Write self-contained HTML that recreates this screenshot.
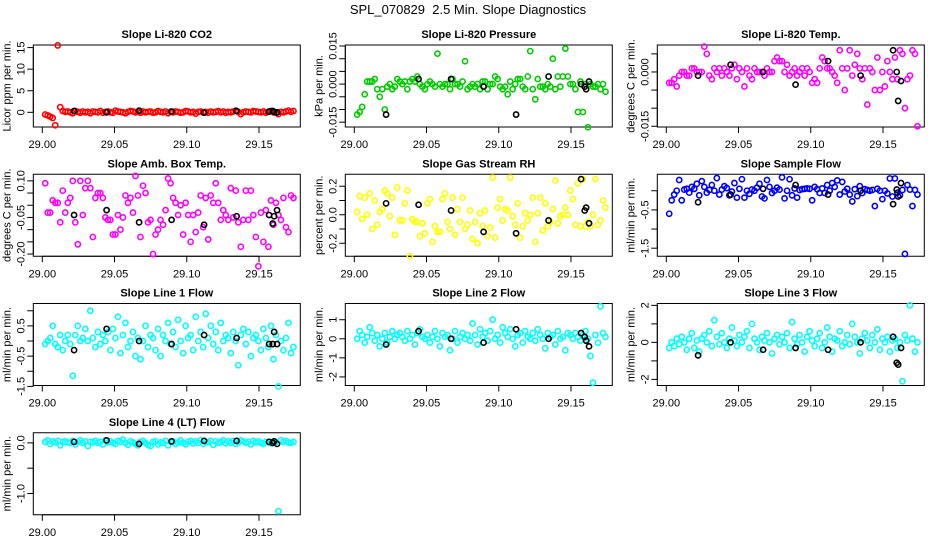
<!DOCTYPE html>
<html><head><meta charset="utf-8">
<style>
html,body{margin:0;padding:0;background:#fff;}
svg{display:block;font-family:"Liberation Sans",Arial,sans-serif;}
</style></head>
<body>
<svg id="chart" width="936" height="540" viewBox="0 0 936 540" xmlns="http://www.w3.org/2000/svg">
<text x="468" y="14" text-anchor="middle" font-size="13" style="white-space:pre">SPL_070829  2.5 Min. Slope Diagnostics</text>
</svg>
<script>
// sample timing (days)
const startDay = 29.002;
const stepDay = 0.0017361;
const calTimes = [29.022,29.0445,29.067,29.0895,29.112,29.1345,29.157,29.1595,29.1605,29.1625];
const xTicks = [29.00,29.05,29.10,29.15];
const xTickLabels = ["29.00","29.05","29.10","29.15"];

const co2Vals = [-0.5,-0.7,-1.0,-1.3,-3.0,15.5,1.2,0.3,0.1,0.2,
0.0,-0.2,0.3,0.1,-0.1,0.2,0.0,0.1,-0.2,0.2,
0.1,0.0,0.3,-0.1,0.1,0.2,0.0,-0.1,0.4,0.2,
0.1,0.0,-0.2,0.1,0.3,0.2,0.0,0.1,-0.1,0.2,
0.0,0.1,0.2,-0.1,0.0,0.3,0.1,0.0,0.2,-0.2,
0.1,0.0,0.2,0.1,-0.1,0.0,0.3,0.2,0.0,0.1,
-0.3,0.1,0.2,0.0,0.1,-0.1,0.2,0.0,0.1,0.3,
0.0,0.2,-0.1,0.1,0.0,0.2,0.4,0.1,-0.4,0.0,
0.2,0.1,0.0,0.3,0.2,0.1,0.0,0.2,-0.1,0.1,
0.3,0.0,-0.1,-0.4,0.1,0.0,0.2,0.4,0.1,0.3];
const co2Cal = [0.3,0.0,0.4,0.2,-0.1,0.3,0.2,0.3,0.1,0.0];

const presVals = [-0.012,-0.011,-0.009,-0.004,0.001,0.001,0.001,0.002,-0.002,-0.005,
-0.002,-0.010,-0.001,0.000,-0.002,-0.001,0.002,0.001,0.000,0.001,
-0.002,0.001,0.002,0.001,0.003,0.000,-0.001,-0.002,0.000,0.001,
0.000,-0.001,0.012,0.000,-0.001,0.000,0.000,-0.002,0.002,0.000,
0.000,-0.001,0.001,0.009,-0.002,-0.001,0.000,-0.001,0.000,-0.002,
0.001,0.001,-0.002,0.000,0.000,0.003,0.002,-0.001,-0.002,-0.001,
-0.004,0.001,-0.002,0.000,0.002,0.002,-0.001,-0.002,0.003,0.013,
-0.002,-0.006,0.002,-0.001,-0.001,-0.002,0.000,-0.001,0.010,-0.002,
0.003,-0.001,0.003,0.014,0.003,0.000,0.000,-0.002,-0.011,0.001,
-0.011,0.000,-0.017,0.000,-0.001,-0.001,0.000,-0.002,0.000,-0.003];
const presCal = [-0.012,0.002,0.002,-0.001,-0.012,0.003,0.000,-0.001,-0.002,0.001];

const tempVals = [-0.003,-0.003,-0.002,-0.004,-0.001,0.000,0.000,-0.001,-0.001,0.001,
0.001,0.000,0.000,0.000,0.007,0.005,-0.001,-0.002,0.001,0.000,
0.001,-0.001,0.001,0.000,-0.001,0.001,0.002,-0.002,0.001,0.000,
-0.004,0.001,-0.001,-0.002,0.001,0.000,0.000,0.000,-0.001,0.001,
0.000,0.000,0.003,0.004,0.003,0.003,0.000,0.002,-0.001,0.000,
0.001,-0.001,0.000,0.001,-0.001,0.001,0.000,-0.003,-0.002,-0.003,
0.001,0.004,0.003,0.001,0.001,0.000,-0.001,-0.003,0.006,0.001,
-0.005,0.001,0.006,-0.001,0.002,0.005,0.001,-0.002,0.001,-0.009,
0.001,0.000,-0.005,0.004,-0.005,0.000,-0.004,0.003,0.000,-0.002,
0.004,-0.002,0.006,0.005,-0.010,-0.002,-0.001,0.006,0.005,-0.015];
const tempCal = [-0.001,0.002,0.000,-0.0035,0.003,-0.001,0.006,0.000,-0.008,-0.0025];

const ambVals = [0.09,-0.03,-0.03,0.02,0.01,0.01,-0.07,0.06,-0.03,0.01,
0.03,0.10,-0.07,-0.16,0.10,-0.04,0.07,0.10,0.07,-0.13,
0.03,0.05,0.05,0.03,-0.05,-0.06,-0.06,-0.12,-0.12,-0.04,
-0.10,-0.05,0.04,0.01,0.03,-0.03,0.12,0.04,-0.13,0.08,
0.05,-0.07,-0.06,-0.20,-0.12,-0.10,-0.06,-0.08,-0.02,0.11,
0.09,0.03,0.01,-0.04,0.00,-0.12,0.01,-0.04,-0.15,-0.04,
-0.11,-0.03,0.04,-0.09,0.03,-0.14,0.04,0.01,0.09,0.01,
-0.06,-0.02,-0.04,-0.06,0.07,-0.05,0.06,-0.07,-0.17,-0.06,
0.06,-0.06,0.06,-0.04,-0.13,-0.25,-0.03,-0.15,-0.02,-0.17,
0.02,-0.08,0.01,-0.04,-0.06,0.03,-0.09,-0.11,0.04,0.03];
const ambCal = [-0.04,-0.02,-0.07,-0.06,-0.08,-0.045,-0.04,-0.075,-0.045,-0.02];

const rhVals = [0.02,0.13,-0.03,0.12,0.00,0.15,-0.10,0.10,-0.07,0.02,
0.04,0.17,0.15,-0.01,0.12,-0.14,0.19,-0.04,-0.04,0.08,
0.17,-0.29,-0.03,-0.05,-0.05,-0.15,-0.06,-0.13,0.08,0.11,
-0.19,-0.08,-0.12,-0.12,0.11,0.15,-0.05,-0.10,0.12,-0.14,
0.04,-0.05,0.12,-0.10,-0.07,0.03,-0.17,-0.05,-0.20,0.01,
-0.08,0.03,-0.15,-0.09,0.26,-0.16,0.05,0.11,-0.04,0.04,
0.03,0.26,-0.01,-0.07,0.08,-0.16,-0.08,0.01,-0.04,0.00,
0.12,-0.19,0.01,0.12,-0.11,0.08,-0.08,-0.05,0.04,0.24,
-0.06,-0.01,0.00,0.05,0.00,0.17,0.11,-0.07,0.22,-0.08,
0.25,-0.08,-0.05,-0.08,0.00,0.25,-0.07,-0.04,0.10,0.05];
const rhCal = [0.08,0.07,0.03,-0.12,-0.13,-0.04,0.25,0.03,0.05,-0.06];

const sampVals = [-0.6,-0.25,-0.1,0.0,0.28,-0.25,0.03,0.05,-0.05,0.1,
0.05,0.18,-0.12,0.25,0.1,-0.05,0.02,0.15,0.0,0.33,
-0.1,0.03,0.12,0.07,-0.12,-0.02,0.2,-0.18,0.05,0.3,
-0.18,0.0,-0.08,0.03,0.0,0.08,0.18,-0.15,-0.2,0.28,
0.1,-0.06,0.0,0.08,0.03,0.35,-0.2,0.0,0.3,-0.12,
0.06,-0.18,0.02,0.04,0.05,0.06,0.05,-0.25,0.1,0.04,
-0.06,0.06,-0.06,0.15,0.0,0.2,0.1,0.27,-0.1,0.23,
-0.02,0.05,-0.1,-0.28,0.04,-0.14,0.12,-0.06,0.04,0.02,
0.0,0.02,-0.4,0.05,0.0,-0.22,0.0,-0.07,0.32,-0.15,
0.32,-0.05,-0.12,0.02,-1.65,0.15,0.03,-0.4,0.02,-0.1];
const sampCal = [-0.3,-0.1,0.05,0.15,-0.1,0.0,-0.35,0.03,-0.15,0.2];

const l1Vals = [-0.1,0.0,0.1,0.5,-0.1,-0.2,0.2,-0.3,0.0,0.2,
-0.1,-1.15,0.2,0.5,0.0,0.1,0.4,0.0,1.0,0.1,
-0.2,0.3,-0.1,0.2,0.0,0.3,-0.3,0.4,0.1,0.8,
-0.4,0.2,0.6,-0.2,0.0,0.3,-0.5,0.1,-0.6,0.0,
0.5,-0.2,0.2,0.1,-0.3,0.4,-0.5,0.2,0.0,0.6,
-0.1,0.3,-0.2,0.7,0.0,-0.4,0.5,0.1,0.2,-0.3,
0.8,0.0,0.3,-0.2,0.9,0.1,0.5,-0.1,0.3,-0.3,
0.6,0.0,0.2,0.1,-0.4,0.3,0.0,-0.8,0.2,0.4,
-0.1,0.3,-0.5,0.1,0.2,0.0,-0.3,0.4,0.1,-0.2,
0.5,-0.6,0.2,-1.5,0.0,-0.3,0.1,0.6,-0.4,-0.2];
const l1Cal = [-0.3,0.4,0.0,-0.1,0.2,0.1,-0.1,-0.1,0.3,-0.1];

const l2Vals = [0.0,0.4,0.2,-0.2,0.1,0.6,0.3,-0.1,0.2,-0.4,
0.0,0.3,-0.2,0.1,0.4,0.0,0.2,0.3,0.1,-0.1,
0.4,0.0,0.2,-0.3,0.3,0.5,0.1,0.0,0.2,-0.2,
0.1,0.4,0.0,-0.4,0.3,0.1,0.2,-0.6,0.0,0.4,
-0.2,0.1,0.3,0.0,0.2,-0.1,0.8,0.2,-0.3,0.5,
0.1,0.3,-0.1,0.4,1.0,0.0,0.2,-0.2,0.6,0.3,
0.1,0.5,0.0,-0.4,0.2,0.3,-0.2,0.4,0.1,0.0,
0.3,-0.1,0.5,0.2,0.0,-0.5,0.3,0.1,0.2,-0.3,
0.4,0.0,0.1,-0.6,0.3,0.2,0.0,0.3,0.1,-0.1,
0.2,0.4,0.0,-0.9,-2.3,0.2,-0.2,1.7,0.3,0.1];
const l2Cal = [-0.3,0.4,0.0,-0.2,0.5,0.0,0.3,0.1,-0.1,-0.4];

const l3Vals = [-0.3,0.0,-0.2,0.2,-0.1,0.3,0.0,-0.4,0.2,0.5,
-0.3,0.1,-0.5,0.2,0.4,0.0,0.6,-0.2,1.2,0.3,
-0.1,0.5,0.0,-0.3,0.2,0.8,0.1,-0.2,0.4,0.0,
0.3,0.6,-0.3,1.0,0.2,0.0,-0.4,0.3,0.1,0.5,
0.0,-0.6,0.2,0.4,-0.1,0.3,0.0,0.5,-0.3,1.1,
0.2,-0.1,0.4,0.0,-0.5,0.3,0.6,0.1,-0.2,0.2,
0.5,-0.3,0.0,0.8,0.3,-0.5,0.2,0.1,0.6,-0.2,
0.0,0.4,-0.1,1.0,0.3,0.0,-0.6,0.2,0.5,0.1,
-0.3,0.4,0.0,0.7,-0.4,0.2,0.0,0.3,-0.5,0.1,
0.2,-0.3,0.0,-2.1,0.4,0.1,2.0,0.2,-0.5,0.0];
const l3Cal = [-0.7,0.0,-0.4,-0.3,-0.4,0.0,0.3,-1.1,-1.2,-0.3];

const l4Vals = [0.02,0.05,-0.02,0.03,0.01,0.04,-0.05,0.02,0.03,0.01,
0.00,0.04,-0.03,0.02,0.05,0.00,0.03,-0.06,0.02,0.01,
0.04,0.00,0.02,-0.03,0.05,0.01,0.03,0.00,-0.02,0.04,
0.02,0.06,0.00,-0.04,0.03,0.01,-0.02,-0.05,0.02,0.04,
0.00,-0.04,-0.06,0.02,0.03,-0.03,0.01,0.00,0.04,-0.05,
0.02,0.03,-0.02,0.01,0.05,0.00,-0.03,0.02,0.04,-0.01,
0.03,0.00,0.05,-0.02,0.02,0.01,0.04,-0.04,0.03,0.00,
0.02,0.05,-0.01,0.03,0.00,0.04,-0.02,0.01,0.05,0.03,
0.00,0.02,-0.03,0.04,0.01,0.03,0.00,-0.02,0.02,0.01,
-0.01,0.03,0.02,-1.35,0.05,0.02,0.04,0.01,0.00,0.02];
const l4Cal = [0.02,0.05,-0.02,0.03,0.04,0.04,0.02,0.00,0.03,-0.02];

const panels = [
 {name:"co2",title:"Slope Li-820 CO2",ylab:"Licor ppm per min.",color:"#ff0000",vals:co2Vals,cal:co2Cal,ymin:-3.4,ymax:15.6,ticks:[0,5,10,15],labels:["0","5","10","15"]},
 {name:"pressure",title:"Slope Li-820 Pressure",ylab:"kPa per min.",color:"#00cd00",vals:presVals,cal:presCal,ymin:-0.0169,ymax:0.0154,ticks:[-0.015,-0.01,-0.005,0,0.005,0.01,0.015],labels:["-0.015","","","0.000","","","0.015"]},
 {name:"li820-temp",title:"Slope Li-820 Temp.",ylab:"degrees C per min.",color:"#ff00ff",vals:tempVals,cal:tempCal,ymin:-0.0152,ymax:0.00745,ticks:[-0.015,-0.01,-0.005,0,0.005],labels:["-0.015","","","0.000",""]},
 {name:"amb-box-temp",title:"Slope Amb. Box Temp.",ylab:"degrees C per min.",color:"#ff00ff",vals:ambVals,cal:ambCal,ymin:-0.209,ymax:0.127,ticks:[-0.2,-0.15,-0.1,-0.05,0,0.05,0.1],labels:["-0.20","","","-0.05","","","0.10"]},
 {name:"gas-rh",title:"Slope Gas Stream RH",ylab:"percent per min.",color:"#ffff00",vals:rhVals,cal:rhCal,ymin:-0.291,ymax:0.284,ticks:[-0.2,-0.1,0,0.1,0.2],labels:["-0.2","","0.0","","0.2"]},
 {name:"sample-flow",title:"Slope Sample Flow",ylab:"ml/min per min.",color:"#0000ff",vals:sampVals,cal:sampCal,ymin:-1.71,ymax:0.43,ticks:[-1.5,-1,-0.5,0],labels:["-1.5","","-0.5",""]},
 {name:"line1-flow",title:"Slope Line 1 Flow",ylab:"ml/min per min.",color:"#00ffff",vals:l1Vals,cal:l1Cal,ymin:-1.47,ymax:1.24,ticks:[-1.5,-1,-0.5,0,0.5,1],labels:["-1.5","","-0.5","","0.5",""]},
 {name:"line2-flow",title:"Slope Line 2 Flow",ylab:"ml/min per min.",color:"#00ffff",vals:l2Vals,cal:l2Cal,ymin:-2.45,ymax:1.85,ticks:[-2,-1,0,1],labels:["-2","-1","0","1"]},
 {name:"line3-flow",title:"Slope Line 3 Flow",ylab:"ml/min per min.",color:"#00ffff",vals:l3Vals,cal:l3Cal,ymin:-2.33,ymax:2.1,ticks:[-2,-1,0,1,2],labels:["-2","","0","","2"]},
 {name:"line4-flow",title:"Slope Line 4 (LT) Flow",ylab:"ml/min per min.",color:"#00ffff",vals:l4Vals,cal:l4Cal,ymin:-1.42,ymax:0.2,ticks:[-1,-0.5,0],labels:["-1.0","","0.0"]}
];

const XMIN = 28.99377, XMAX = 29.1786;
const BOXW = 267, BOXH = 82;
const svg = document.getElementById('chart');
const NS = "http://www.w3.org/2000/svg";
function mk(tag, attrs, parent){
  const e = document.createElementNS(NS, tag);
  for (const k in attrs) e.setAttribute(k, attrs[k]);
  parent.appendChild(e);
  return e;
}

panels.forEach((p, idx) => {
  const col = idx % 3, row = Math.floor(idx / 3);
  const left = 33.3 + col * 312;
  const top = 45 + row * 129.25;
  const bottom = top + BOXH;
  const xs = v => left + (v - XMIN) / (XMAX - XMIN) * BOXW;
  const ys = v => bottom - (v - p.ymin) / (p.ymax - p.ymin) * BOXH;

  const g = mk('g', {}, svg);
  
  

  const t = mk('text', {x: left + BOXW/2, y: top - 7, 'text-anchor':'middle', 'font-size':'11', 'font-weight':'bold'}, g);
  t.textContent = p.title;
  
  

  const box = mk('rect', {x:left, y:top, width:BOXW, height:BOXH, fill:'none', stroke:'#000', 'stroke-width':'1'}, g);
  
  

  const xa = mk('g', {}, g);
  
  
  mk('line', {x1:xs(xTicks[0]), x2:xs(xTicks[xTicks.length-1]), y1:bottom, y2:bottom, stroke:'#000'}, xa);
  xTicks.forEach((v, i) => {
    mk('line', {x1:xs(v), x2:xs(v), y1:bottom, y2:bottom+6, stroke:'#000'}, xa);
    const lt = mk('text', {x:xs(v), y:bottom+21, 'text-anchor':'middle', 'font-size':'11'}, xa);
    lt.textContent = xTickLabels[i];
    
    
  });

  const ya = mk('g', {}, g);
  
  
  mk('line', {x1:left, x2:left, y1:ys(p.ticks[0]), y2:ys(p.ticks[p.ticks.length-1]), stroke:'#000'}, ya);
  p.ticks.forEach((v, i) => {
    mk('line', {x1:left-6, x2:left, y1:ys(v), y2:ys(v), stroke:'#000'}, ya);
    if (p.labels[i]) {
      const lx = left - 9, ly = ys(v);
      const lt = mk('text', {x:lx, y:ly, 'text-anchor':'middle', 'font-size':'11', transform:'rotate(-90 '+lx+' '+ly+')'}, ya);
      lt.textContent = p.labels[i];
      
      
    }
  });
  const yx = left - 23, yy = top + BOXH/2;
  const yt = mk('text', {x:yx, y:yy, 'text-anchor':'middle', 'font-size':'11', transform:'rotate(-90 '+yx+' '+yy+')'}, g);
  yt.textContent = p.ylab;
  
  

  const pg = mk('g', {fill:'none', stroke:p.color, 'stroke-width':'1.6'}, g);
  
  
  p.vals.forEach((v, i) => {
    const c = mk('circle', {cx:xs(startDay + i*stepDay), cy:ys(v), r:'2.6'}, pg);
    
    
  });
  const cg = mk('g', {fill:'none', stroke:'#000', 'stroke-width':'1.6'}, g);
  
  
  p.cal.forEach((v, i) => {
    const c = mk('circle', {cx:xs(calTimes[i]), cy:ys(v), r:'2.6'}, cg);
    
    
  });
});
</script>
</body></html>
